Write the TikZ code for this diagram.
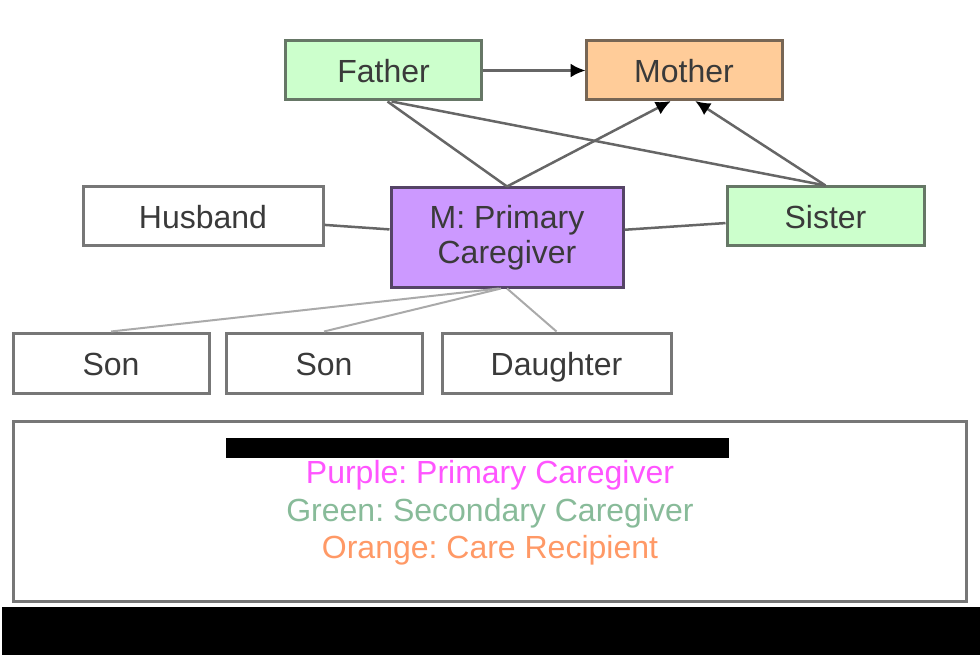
\documentclass[tikz,border=0pt]{standalone}
\usepackage{fontspec}
\setmainfont{Liberation Sans}
\frenchspacing
\usetikzlibrary{arrows.meta}
\definecolor{gfill}{HTML}{CCFFCC}
\definecolor{gdraw}{HTML}{667766}
\definecolor{ofill}{HTML}{FFCC99}
\definecolor{odraw}{HTML}{776655}
\definecolor{pfill}{HTML}{CC99FF}
\definecolor{pdraw}{HTML}{554466}
\definecolor{wdraw}{HTML}{777777}
\definecolor{txt}{HTML}{3A3A3A}
\definecolor{conn}{HTML}{666666}
\definecolor{lightconn}{HTML}{AAAAAA}
\definecolor{legp}{HTML}{FF55FF}
\definecolor{legg}{HTML}{88BB99}
\definecolor{lego}{HTML}{FF9966}
\tikzset{
  box/.style={rectangle, line width=3pt, inner sep=0pt, align=center,
    text=txt, font=\fontsize{32}{35}\selectfont},
  one/.style={text height=24pt, text depth=0pt},
  wbox/.style={box, draw=wdraw, fill=white},
  gbox/.style={box, draw=gdraw, fill=gfill},
  obox/.style={box, draw=odraw, fill=ofill},
  pbox/.style={box, draw=pdraw, fill=pfill},
  link/.style={draw=conn, line width=2.5pt},
  kidlink/.style={draw=lightconn, line width=2pt},
  arr/.style={link, -{Latex[length=15pt,width=14pt,black]}, shorten >=-1pt},
  legtext/.style={font=\fontsize{32}{35}\selectfont, inner sep=0pt}
}
\begin{document}
\begin{tikzpicture}[x=1pt,y=-1pt]
\useasboundingbox (0,0) rectangle (980,655);
% nodes
\node[gbox, one, minimum width=196pt, minimum height=59pt] (father) at (383.5,70.5) {Father};
\node[obox, one, minimum width=196pt, minimum height=59pt] (mother) at (684,70.5) {Mother};
\node[wbox, one, minimum width=240pt, minimum height=59pt] (husband) at (203,216.5) {Husband};
\node[pbox, minimum width=232pt, minimum height=99pt] (m) at (507,237.5) {M: Primary\\Caregiver};
\node[gbox, one, minimum width=197pt, minimum height=59pt] (sister) at (825.5,216.5) {Sister};
\node[wbox, one, minimum width=196pt, minimum height=60pt] (son1) at (111,363) {Son};
\node[wbox, one, minimum width=196pt, minimum height=60pt] (son2) at (324,363) {Son};
\node[wbox, one, minimum width=229pt, minimum height=60pt] (daughter) at (556.5,363) {Daughter};
% connectors
\draw[arr] (father.east) -- (mother.west);
\draw[link] ([xshift=4pt]father.south) -- (m.north);
\draw[link] ([xshift=8pt]father.south) -- (sister.north);
\draw[arr] (m.north) -- ([xshift=-14pt]mother.south);
\draw[arr] (sister.north) -- ([xshift=12pt]mother.south);
\draw[link] (husband) -- (m);
\draw[link] (m) -- (sister);
\draw[kidlink] ([xshift=-8pt]m.south) -- (son1.north);
\draw[kidlink] ([xshift=-6pt]m.south) -- (son2.north);
\draw[kidlink] (m.south) -- (daughter.north);
% legend
\node[draw=wdraw, line width=3pt, fill=white, minimum width=953pt, minimum height=180pt, inner sep=0pt] (legend) at (490,511.5) {};
\fill[black] (226,438) rectangle (729,458);
\node[legtext, text=legp] (l1) at (490,475) {Purple: Primary Caregiver};
\node[legtext, text=legg] (l2) at (490,513) {Green: Secondary Caregiver};
\node[legtext, text=lego] (l3) at (490,550) {Orange: Care Recipient};
\fill[black] (2,607) rectangle (980,655);
\end{tikzpicture}
\end{document}
